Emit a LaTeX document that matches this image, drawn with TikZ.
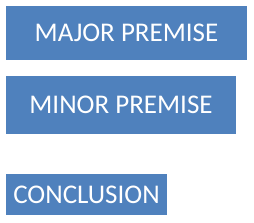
\documentclass[tikz,border=0pt]{standalone}
\usepackage{fontspec}
\setmainfont{Carlito}
\definecolor{premiseblue}{HTML}{4F81BD}
\tikzset{
    premisebox/.style={fill=premiseblue, text=white, inner sep=0pt, font=\fontsize{27}{32}\selectfont, anchor=center}
}
\begin{document}
\begin{tikzpicture}[x=1pt, y=-1pt]
        % Canvas
        \useasboundingbox (0,0) rectangle (254,222);

        % Premises
        \node (major) at (126.5,33) [premisebox, minimum width=241pt, minimum height=54pt] {MAJOR PREMISE};
        \node (minor) at (121,105) [premisebox, minimum width=230pt, minimum height=58pt] {MINOR PREMISE};

        % Conclusion
        \node (concl) at (86.5,194.5) [premisebox, minimum width=161pt, minimum height=41pt] {CONCLUSION};
    \end{tikzpicture}
\end{document}
